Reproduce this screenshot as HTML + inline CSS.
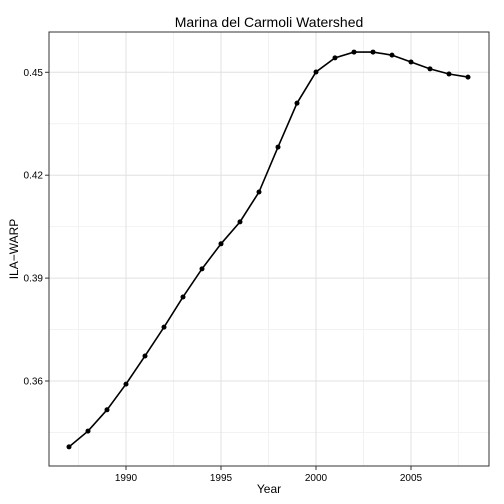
<!DOCTYPE html>
<html><head><meta charset="utf-8"><style>
body{margin:0;background:#fff;}
svg{display:block;font-family:"Liberation Sans",sans-serif;}
</style></head><body>
<svg id="chart" width="504" height="504" viewBox="0 0 504 504">
<rect x="0" y="0" width="504" height="504" fill="#fff"/>
<g id="grid"></g>
<g id="series"></g>
<rect x="49" y="32" width="440" height="434" fill="none" stroke="#333" stroke-width="1"/>
<g id="axes"></g>
<text x="269" y="27" text-anchor="middle" font-size="14" fill="#000">Marina del Carmoli Watershed</text>
<text x="269" y="493" text-anchor="middle" font-size="12" fill="#000">Year</text>
<text x="18" y="249" text-anchor="middle" font-size="12" fill="#000" transform="rotate(-90 18 249)">ILA−WARP</text>
</svg>
<script>
const years=[1987,1988,1989,1990,1991,1992,1993,1994,1995,1996,1997,1998,1999,2000,2001,2002,2003,2004,2005,2006,2007,2008];
const values=[0.3408,0.3454,0.3516,0.3591,0.3673,0.3757,0.3845,0.3927,0.4000,0.4064,0.4151,0.4282,0.4410,0.4501,0.4542,0.4559,0.4559,0.4550,0.4530,0.4510,0.4495,0.4486];
const xTicks=[1990,1995,2000,2005];
const yTicks=[0.36,0.39,0.42,0.45];
const yTickLabels=["0.36","0.39","0.42","0.45"];
const NS="http://www.w3.org/2000/svg";
const L=49,R=489,T=32,B=466;
function xs(v){return 126+(v-1990)*19;}
function ys(v){return 72.3+(0.45-v)*3430;}
function mk(tag,attrs,parent){const e=document.createElementNS(NS,tag);for(const k in attrs)e.setAttribute(k,attrs[k]);parent.appendChild(e);return e;}
const grid=document.getElementById('grid'),axes=document.getElementById('axes'),series=document.getElementById('series');
// minor grid
for(let i=0;i<xTicks.length+1;i++){const v=xTicks[0]-2.5+i*5;const x=xs(v);if(x>L&&x<R){const g=mk('line',{x1:x,x2:x,y1:T,y2:B,stroke:'#f2f2f2','stroke-width':1},grid);}}
for(let i=0;i<yTicks.length+1;i++){const v=yTicks[0]-0.015+i*0.03;const y=ys(v);if(y>T&&y<B){const g=mk('line',{x1:L,x2:R,y1:y,y2:y,stroke:'#f2f2f2','stroke-width':1},grid);}}
xTicks.forEach(v=>{const x=xs(v);
const g=mk('line',{x1:x,x2:x,y1:T,y2:B,stroke:'#e0e0e0','stroke-width':1},grid);
const t=mk('line',{x1:x,x2:x,y1:B,y2:B+4,stroke:'#333'},axes);
const l=mk('text',{x:x,y:B+15,'text-anchor':'middle','font-size':'10',fill:'#000'},axes);l.textContent=String(v);});
yTicks.forEach((v,i)=>{const y=ys(v);
const g=mk('line',{x1:L,x2:R,y1:y,y2:y,stroke:'#e0e0e0','stroke-width':1},grid);
const t=mk('line',{x1:L-4,x2:L,y1:y,y2:y,stroke:'#333'},axes);
const l=mk('text',{x:L-6,y:y+3.5,'text-anchor':'end','font-size':'10',fill:'#000'},axes);l.textContent=yTickLabels[i];});
const pts=years.map((y,i)=>xs(y)+','+ys(values[i])).join(' ');
const pl=mk('polyline',{points:pts,fill:'none',stroke:'#000','stroke-width':1.6},series);


years.forEach((y,i)=>{const c=mk('circle',{cx:xs(y),cy:ys(values[i]),r:2.5,fill:'#000'},series);

});
</script>
</body></html>
